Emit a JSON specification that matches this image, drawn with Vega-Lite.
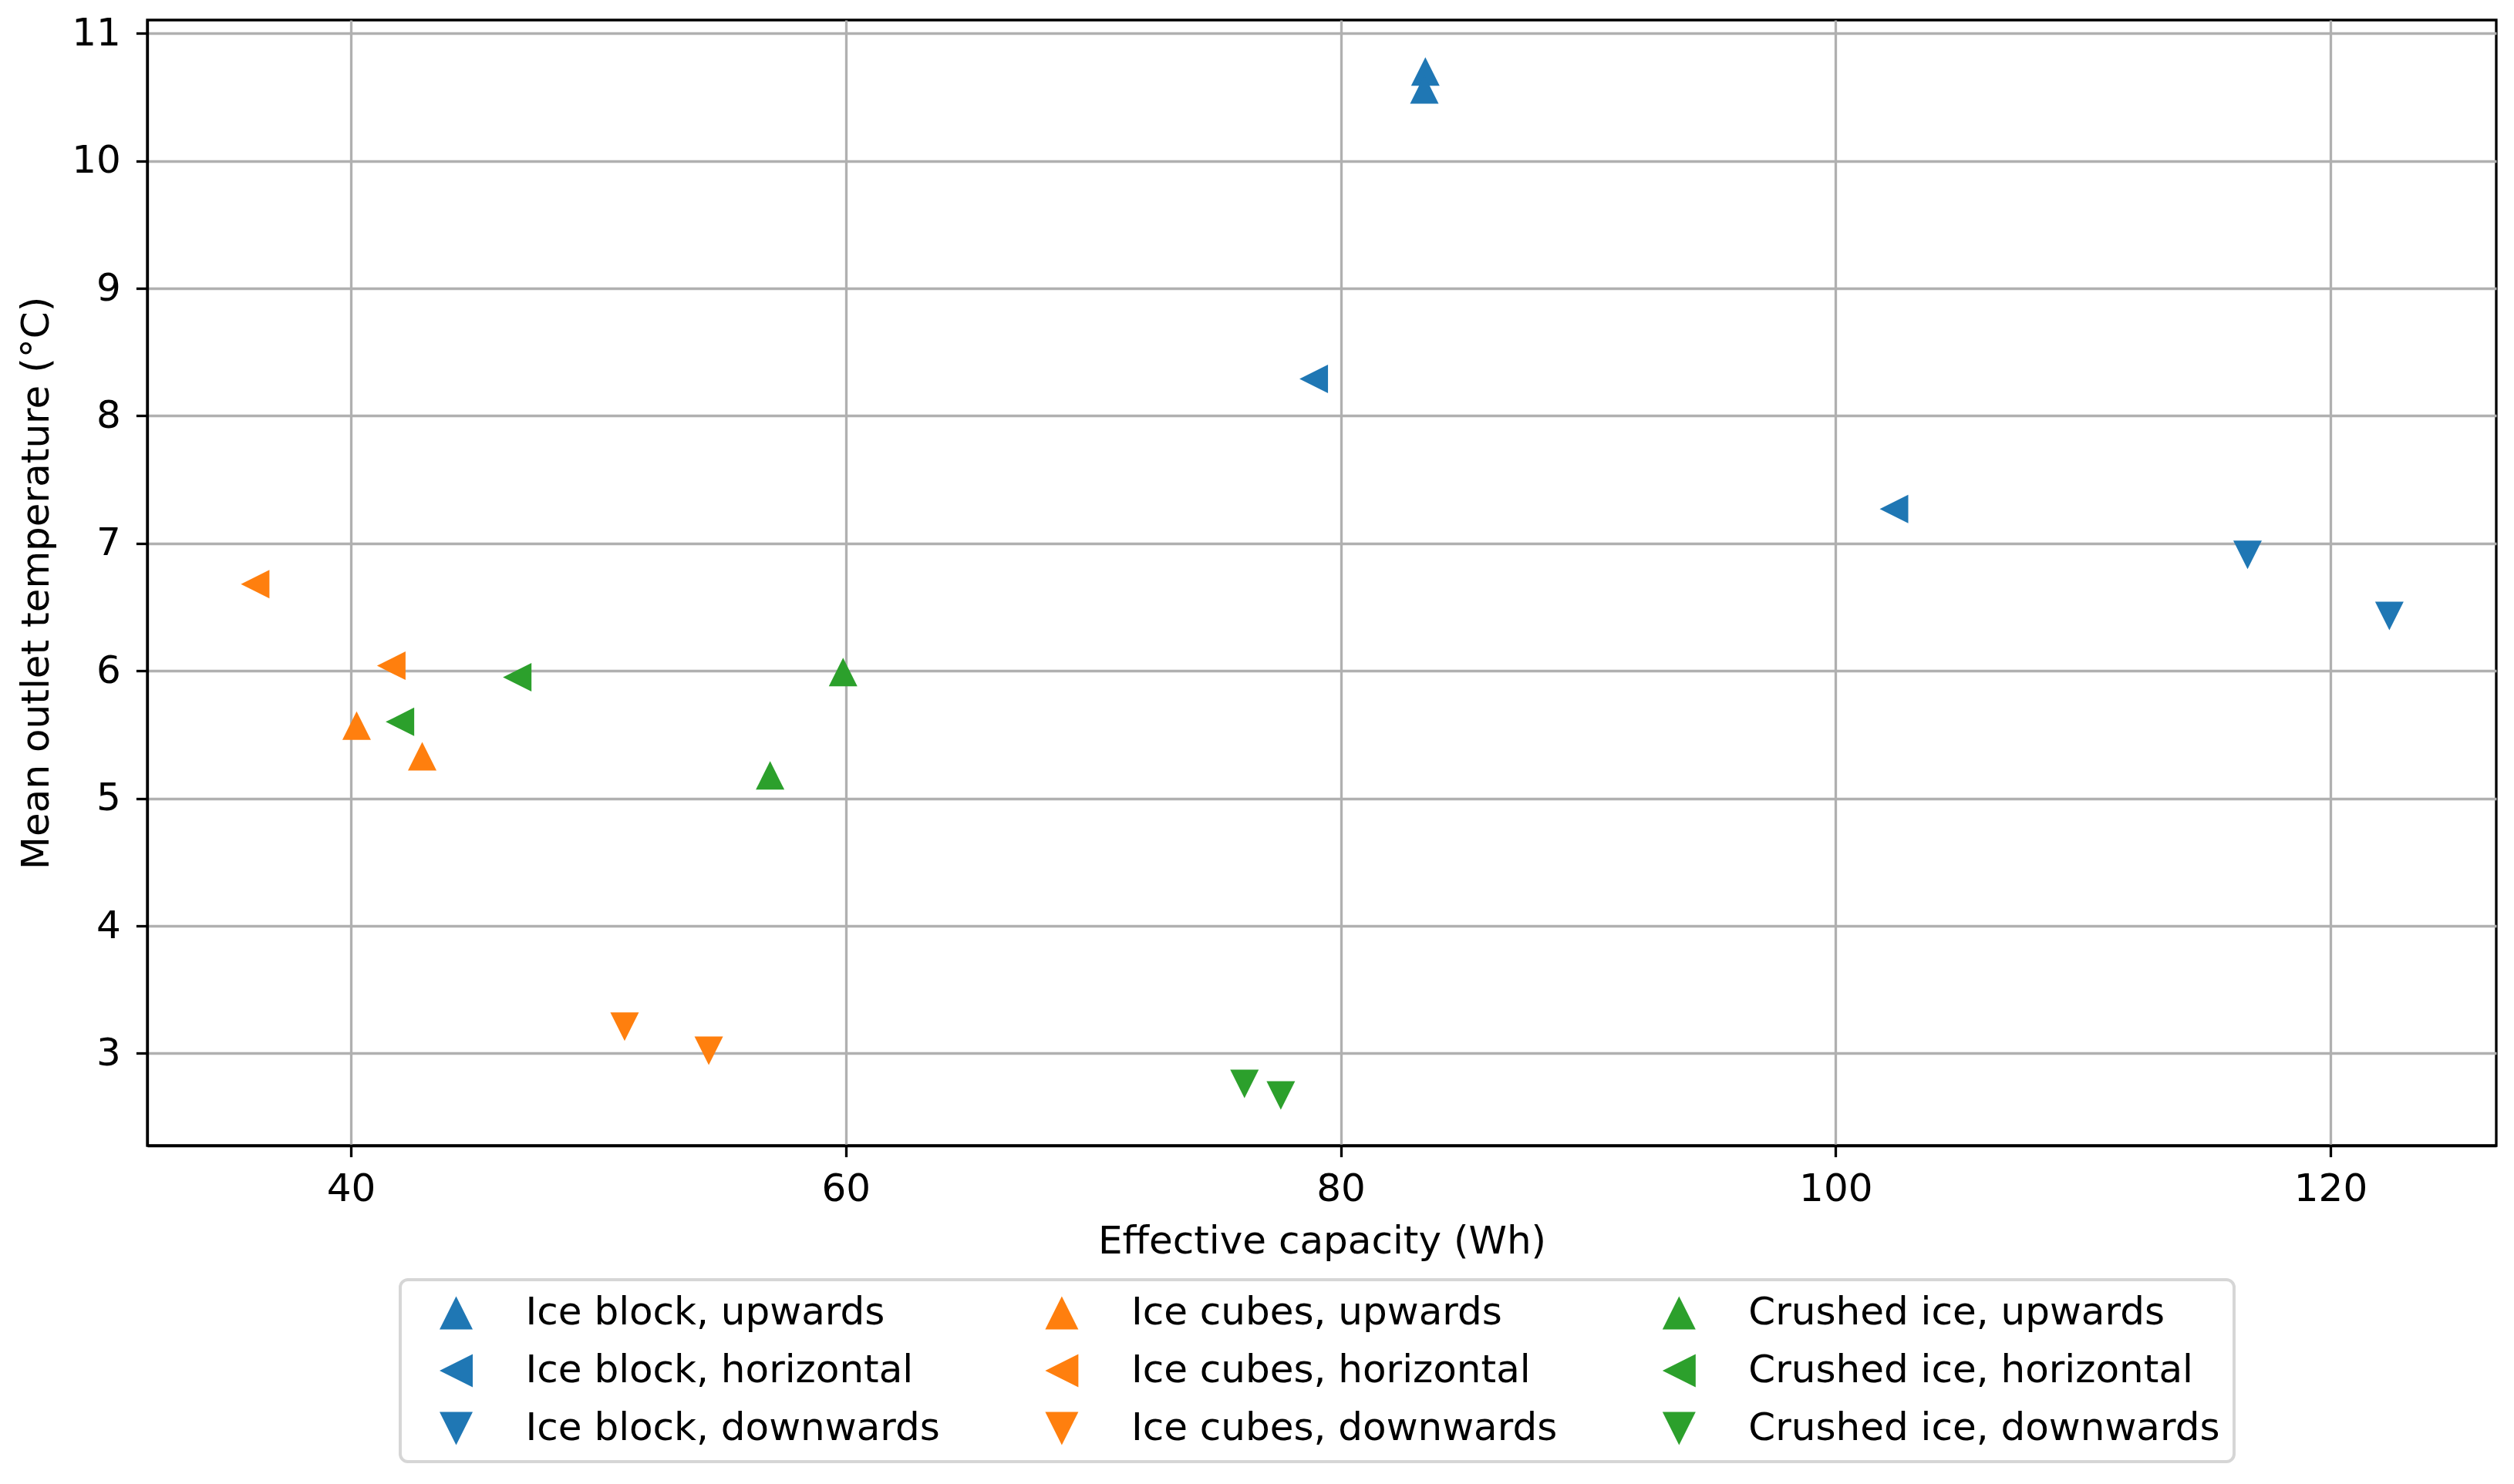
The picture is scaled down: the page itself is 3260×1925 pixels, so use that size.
{
  "$schema": "https://vega.github.io/schema/vega-lite/v6.json",
  "autosize": {"type": "none"},
  "padding": {"left": 191, "top": 26, "right": 23, "bottom": 439},
  "width": 3046,
  "height": 1460,
  "background": "white",
  "data": {
    "values": [
      {"series": "Ice block, upwards", "capacity": 83.42, "temp": 10.70},
      {"series": "Ice block, upwards", "capacity": 83.38, "temp": 10.56},
      {"series": "Ice block, horizontal", "capacity": 78.91, "temp": 8.29},
      {"series": "Ice block, horizontal", "capacity": 102.36, "temp": 7.27},
      {"series": "Ice block, downwards", "capacity": 116.65, "temp": 6.91},
      {"series": "Ice block, downwards", "capacity": 122.38, "temp": 6.43},
      {"series": "Ice cubes, upwards", "capacity": 40.23, "temp": 5.57},
      {"series": "Ice cubes, upwards", "capacity": 42.88, "temp": 5.33},
      {"series": "Ice cubes, horizontal", "capacity": 36.13, "temp": 6.68},
      {"series": "Ice cubes, horizontal", "capacity": 41.63, "temp": 6.04},
      {"series": "Ice cubes, downwards", "capacity": 51.06, "temp": 3.21},
      {"series": "Ice cubes, downwards", "capacity": 54.46, "temp": 3.02},
      {"series": "Crushed ice, upwards", "capacity": 59.89, "temp": 5.99},
      {"series": "Crushed ice, upwards", "capacity": 56.94, "temp": 5.18},
      {"series": "Crushed ice, horizontal", "capacity": 46.72, "temp": 5.95},
      {"series": "Crushed ice, horizontal", "capacity": 41.98, "temp": 5.60},
      {"series": "Crushed ice, downwards", "capacity": 76.11, "temp": 2.76},
      {"series": "Crushed ice, downwards", "capacity": 77.58, "temp": 2.67}
    ]
  },
  "mark": {"type": "point", "filled": true, "opacity": 1, "size": 1369, "strokeWidth": 0},
  "encoding": {
    "x": {
      "field": "capacity", "type": "quantitative",
      "scale": {"domain": [31.77, 126.70], "nice": false, "zero": false},
      "axis": {"title": "Effective capacity (Wh)", "values": [40, 60, 80, 100, 120], "titleBaseline": "alphabetic", "titleY": 139, "labelPadding": 17}
    },
    "y": {
      "field": "temp", "type": "quantitative",
      "scale": {"domain": [2.277, 11.104], "nice": false, "zero": false},
      "axis": {"title": "Mean outlet temperature (°C)", "values": [3, 4, 5, 6, 7, 8, 9, 10, 11], "titleBaseline": "alphabetic", "titleX": -129, "titleAngle": -90, "labelPadding": 20}
    },
    "color": {
      "field": "series", "type": "nominal",
      "scale": {
        "domain": ["Ice block, upwards", "Ice cubes, upwards", "Crushed ice, upwards", "Ice block, horizontal", "Ice cubes, horizontal", "Crushed ice, horizontal", "Ice block, downwards", "Ice cubes, downwards", "Crushed ice, downwards"],
        "range": ["#1f77b4", "#ff7f0e", "#2ca02c", "#1f77b4", "#ff7f0e", "#2ca02c", "#1f77b4", "#ff7f0e", "#2ca02c"]
      },
      "legend": {"title": null}
    },
    "shape": {
      "field": "series", "type": "nominal",
      "scale": {
        "domain": ["Ice block, upwards", "Ice cubes, upwards", "Crushed ice, upwards", "Ice block, horizontal", "Ice cubes, horizontal", "Crushed ice, horizontal", "Ice block, downwards", "Ice cubes, downwards", "Crushed ice, downwards"],
        "range": ["M0,-1L-1,1L1,1Z", "M0,-1L-1,1L1,1Z", "M0,-1L-1,1L1,1Z", "M-1,0L1,-1L1,1Z", "M-1,0L1,-1L1,1Z", "M-1,0L1,-1L1,1Z", "M0,1L-1,-1L1,-1Z", "M0,1L-1,-1L1,-1Z", "M0,1L-1,-1L1,-1Z"]
      },
      "legend": {"title": null}
    }
  },
  "config": {
    "font": "DejaVu Sans",
    "view": {"stroke": "black", "strokeWidth": 3.3},
    "axis": {
      "zindex": 1,
      "domain": true, "domainColor": "black", "domainWidth": 3.3,
      "grid": true, "gridColor": "#b0b0b0", "gridWidth": 3.3,
      "ticks": true, "tickColor": "black", "tickWidth": 3.3, "tickSize": 14.6,
      "labelFont": "DejaVu Sans", "labelFontSize": 50, "labelColor": "black",
      "titleFont": "DejaVu Sans", "titleFontSize": 50, "titleFontWeight": "normal", "titleColor": "black",
      "labelFlush": false, "labelOverlap": false
    },
    "legend": {
      "orient": "none",
      "legendX": 328,
      "legendY": 1634,
      "columns": 3,
      "direction": "horizontal",
      "columnPadding": 103.4,
      "rowPadding": 25,
      "padding": 18,
      "symbolSize": 1849,
      "symbolStrokeWidth": 0,
      "symbolOpacity": 1,
      "symbolOffset": 29.5,
      "labelOffset": 65,
      "labelFont": "DejaVu Sans",
      "labelFontSize": 50,
      "labelColor": "black",
      "labelLimit": 2000,
      "strokeColor": "#d6d6d6",
      "strokeWidth": 4,
      "cornerRadius": 10,
      "fillColor": "white"
    }
  }
}
